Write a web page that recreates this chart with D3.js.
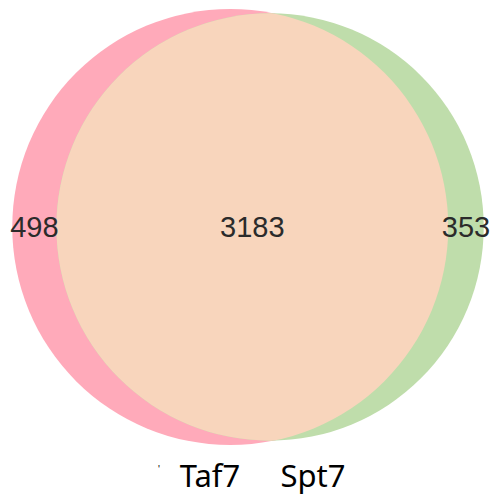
<!DOCTYPE html>
<html>
<head>
<meta charset="utf-8">
<script src="https://cdn.jsdelivr.net/npm/d3@7"></script>
<style>
  html, body { margin: 0; padding: 0; background: #fff; }
  svg { display: block; }
</style>
</head>
<body>
<div id="chart"></div>
<script>
// sets and counts
const setNames = ['Taf7', 'Spt7'];
const onlyCounts = [498, 353];
const bothCount = 3183;
const setColors = ['#ffaaba', '#bfddab'];
const overlapColor = '#f8d5bc';

const W = 495, H = 497;
const cx = 248, cy = 227;

const sizes = [onlyCounts[0] + bothCount, onlyCounts[1] + bothCount];

// radius from set size (area proportional)
const r = d3.scaleSqrt().domain([0, d3.max(sizes)]).range([0, 218]);
const rA = r(sizes[0]), rB = r(sizes[1]);
const pxPerUnit = Math.PI * rA * rA / sizes[0];

// lens area of two circles at distance d
function lens(d, r1, r2) {
    if (d >= r1 + r2) return 0;
    if (d <= Math.abs(r1 - r2)) return Math.PI * Math.min(r1, r2) ** 2;
    const a = r1 * r1 * Math.acos((d * d + r1 * r1 - r2 * r2) / (2 * d * r1));
    const b = r2 * r2 * Math.acos((d * d + r2 * r2 - r1 * r1) / (2 * d * r2));
    const c = 0.5 * Math.sqrt((-d + r1 + r2) * (d + r1 - r2) * (d - r1 + r2) * (d + r1 + r2));
    return a + b - c;
}

// find distance so overlap matches bothCount
const target = bothCount * pxPerUnit;
let lo = Math.abs(rA - rB), hi = rA + rB;
for (let i = 0; i < 60; i++) {
    const mid = (lo + hi) / 2;
    if (lens(mid, rA, rB) > target) lo = mid; else hi = mid;
}
const dist = (lo + hi) / 2;

// left edge of A to right edge of B, centred on cx
const span = rA + dist + rB;
const x = d3.scaleLinear().domain([0, span]).range([cx - span / 2, cx + span / 2]);
const circles = [
    { name: setNames[0], r: rA, x: x(rA), color: setColors[0] },
    { name: setNames[1], r: rB, x: x(rA + dist), color: setColors[1] }
];

const svg = d3.select('#chart').append('svg').attr('width', W).attr('height', H);

svg.append('defs').append('clipPath').attr('id', 'clipA')
    .append('circle').attr('cx', circles[0].x).attr('cy', cy).attr('r', circles[0].r);

svg.selectAll('circle.set').data(circles).enter().append('circle')
    .attr('class', 'set')
    .attr('cx', d => d.x).attr('cy', cy).attr('r', d => d.r)
    .attr('fill', d => d.color);

svg.append('circle')
    .attr('cx', circles[1].x).attr('cy', cy).attr('r', circles[1].r)
    .attr('clip-path', 'url(#clipA)')
    .attr('fill', overlapColor);

// count labels
const leftA = circles[0].x - rA, rightA = circles[0].x + rA;
const leftB = circles[1].x - rB, rightB = circles[1].x + rB;
const counts = [
    { v: onlyCounts[0], x: (leftA + leftB) / 2 },
    { v: bothCount, x: (leftB + rightA) / 2 },
    { v: onlyCounts[1], x: (rightA + rightB) / 2 }
];
svg.selectAll('text.count').data(counts).enter().append('text')
    .attr('class', 'count')
    .attr('x', d => d.x).attr('y', cy + 10)
    .attr('text-anchor', 'middle')
    .attr('font-family', 'Liberation Sans, Arial, sans-serif')
    .attr('font-size', 29)
    .attr('fill', '#2b2b2b')
    .text(d => d.v);

// set names
const nameX = [210, 313];
svg.selectAll('text.name').data(setNames).enter().append('text')
    .attr('class', 'name')
    .attr('x', (d, i) => nameX[i]).attr('y', 487)
    .attr('text-anchor', 'middle')
    .attr('font-family', 'Noto Sans, Open Sans, sans-serif')
    .attr('font-size', 31)
    .attr('fill', '#000')
    .text(d => d);

// stray mark left of the first name
svg.append('text')
    .attr('x', 159).attr('y', 473)
    .attr('text-anchor', 'middle')
    .attr('font-family', 'Liberation Sans, sans-serif')
    .attr('font-size', 10)
    .attr('fill', '#000')
    .text("'");
</script>
</body>
</html>
